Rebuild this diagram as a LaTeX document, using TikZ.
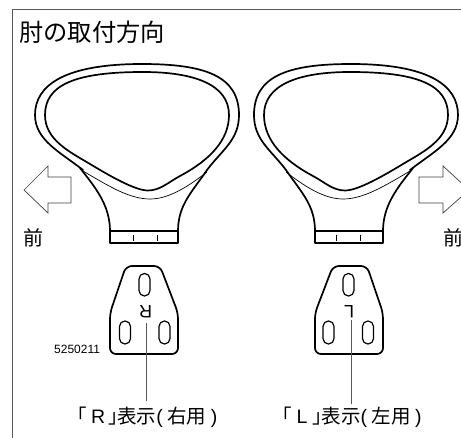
\documentclass[tikz,border=0pt]{standalone}
\usepackage{fontspec}
\setmainfont{Liberation Sans}
\newfontfamily\cjk{Noto Sans CJK JP}
\tikzset{
  x=1pt,y=-1pt,
  frameline/.style={draw=black!65,line width=0.9pt},
  heavy/.style={draw=black,line width=1.7pt,line join=round,line cap=round},
  slot/.style={draw=black,line width=1.2pt,rounded corners=5.4pt},
  fineline/.style={draw=black,line width=0.7pt},
  leader/.style={draw=black!65,line width=0.9pt},
  arrowshape/.style={draw=black!75,line width=0.7pt,fill=white,line join=miter},
  lab/.style={inner sep=0pt,anchor=base west},
  mark letter/.style={inner sep=0pt,rotate=180,font=\fontsize{18}{18}\selectfont},
}
\newcommand{\armrest}{%
  \draw[heavy] (83,170) .. controls (60,152) and (35,140) .. (35,115)
    .. controls (35,85) and (65,64) .. (142,64)
    .. controls (205,64) and (239,76) .. (239,115)
    .. controls (239,140) and (222,150) .. (207,170);
  \draw[fineline] (83,171) .. controls (110,187) and (130,199) .. (150,199)
    .. controls (170,199) and (190,185) .. (207,172);
  \draw[heavy] (45,115) .. controls (45,85) and (75,72) .. (143,72)
    .. controls (195,72) and (229,85) .. (229,115)
    .. controls (229,140) and (210,160) .. (180,176)
    .. controls (168,182.5) and (160,190.5) .. (148,190.5)
    .. controls (135,190.5) and (110,176) .. (90,164)
    .. controls (70,152) and (45,140) .. (45,115) -- cycle;
  \draw[heavy] (80,168) .. controls (95,187) and (110,205) .. (110,231);
  \draw[heavy] (207,170) .. controls (192,192) and (178,205) .. (178,231);
  \draw[heavy] (110,231) -- (110,243) -- (178,243) -- (178,231) -- cycle;
  \draw[fineline] (133,235) -- (133,241) (157,235) -- (157,241);
}
\newcommand{\plate}{%
  \draw[heavy,rounded corners=6pt] (126,266) -- (160,266) -- (178,313) -- (178,354) -- (110,354) -- (110,313) -- cycle;
  \draw[slot] (139,273.5) rectangle (150,296);
  \draw[slot] (119.5,321) rectangle (130.5,344);
  \draw[slot] (159,321) rectangle (170,344);
}
\begin{document}
\begin{tikzpicture}
\useasboundingbox (0,0) rectangle (461,438);
\clip (0,0) rectangle (461,438);
\draw[frameline] (461,9.5) -- (12.5,9.5) -- (12.5,438);
\node[lab] (title) at (19,41.5) {\fontsize{24.3}{24}\selectfont\cjk 肘の取付方向};
\armrest
\begin{scope}[xshift=493pt,xscale=-1]
  \armrest
\end{scope}
\plate
\begin{scope}[xshift=493pt,xscale=-1]
  \plate
\end{scope}
\node[lab] (mae1) at (23,246) {\fontsize{20}{20}\selectfont\cjk 前};
\node[lab] (mae2) at (443,246) {\fontsize{20}{20}\selectfont\cjk 前};
\draw[arrowshape] (24,190) -- (48,166) -- (48,177) -- (71,177) -- (71,203) -- (48,203) -- (48,213) -- cycle;
\draw[arrowshape] (469,190) -- (443,166) -- (443,177) -- (419,177) -- (419,203) -- (443,203) -- (443,213) -- cycle;
\node[lab] (code) at (54,354) {\fontsize{12}{12}\selectfont 5250211};
\node[mark letter] (markR) at (145.5,311.5) {R};
\node[mark letter] (markL) at (349,312) {L};
\coordinate (endR) at (146,401);
\coordinate (startR) at (146,323);
\coordinate (endL) at (351,404);
\coordinate (startL) at (351,320);
\draw[leader] (startR) -- (endR);
\draw[leader] (startL) -- (endL);
\node[lab] (labelR) at (67,424) {\fontsize{19.5}{20}\selectfont{\cjk 「}\hspace{4.5pt}R\hspace{3pt}{\cjk 」\hspace{-10.5pt}表示}(\hspace{4.5pt}{\cjk 右用}\hspace{4.5pt})};
\node[lab] (labelL) at (272,424) {\fontsize{19.5}{20}\selectfont{\cjk 「}\hspace{5pt}L\hspace{5pt}{\cjk 」\hspace{-10.5pt}表示}(\hspace{4.5pt}{\cjk 左用}\hspace{4.5pt})};
\end{tikzpicture}
\end{document}
